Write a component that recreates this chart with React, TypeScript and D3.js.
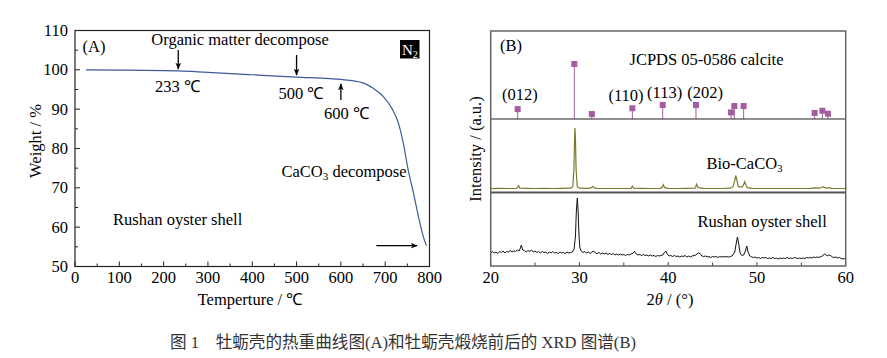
import React from "react";
import * as d3 from "d3";

// ---------- Panel A: TGA data ----------
const tgaTemp = [25, 100, 233, 300, 400, 500, 575, 600, 650, 673, 696, 715, 730, 741, 752, 764, 775, 786, 793];
const tgaWeight = [100, 99.95, 99.75, 99.35, 98.75, 98.15, 97.75, 97.55, 96.7, 95.3, 93.2, 90.2, 86.4, 81.3, 74.5, 68.6, 62.7, 57.6, 55.3];
const xTicksA = [0, 100, 200, 300, 400, 500, 600, 700, 800];
const yTicksA = [50, 60, 70, 80, 90, 100, 110];

// ---------- Panel B: XRD data ----------
const jcpdsAngle = [23.04, 29.42, 31.4, 35.96, 39.38, 43.13, 47.08, 47.45, 48.5, 56.5, 57.37, 58.0];
const jcpdsIntensity = [18, 100, 9, 19.5, 25.5, 25.5, 12, 23.6, 23.6, 11, 15, 9.6];
const hklLabels = ["(012)", "(110)", "(113)", "(202)"];
const hklAngles = [23.3, 35.25, 39.6, 44.15];

const bioCaCO3: [number, number][] = [
  [20, 0], [21, 0.3], [22, 0.2], [22.9, 0.3], [23.05, 1.5], [23.15, 3], [23.3, 0.5], [24, 0.3], [25, 0.2], [26, 0.3],
  [27, 0.2], [28, 0.3], [29, 0.5], [29.25, 2], [29.38, 20], [29.45, 50], [29.5, 60.7], [29.55, 50], [29.62, 20],
  [29.75, 2], [30, 0.5], [31, 0.3], [31.35, 1], [31.5, 2.4], [31.65, 0.8], [32, 0.3], [33, 0.2], [34, 0.2], [35, 0.2],
  [35.8, 0.4], [35.95, 2.5], [36.1, 0.5], [37, 0.3], [38, 0.2], [39, 0.3], [39.3, 1], [39.45, 4], [39.6, 1], [40, 0.3],
  [41, 0.2], [42, 0.3], [43, 0.5], [43.1, 2], [43.2, 4.4], [43.35, 1], [44, 0.3], [45, 0.2], [46, 0.2], [47, 0.5],
  [47.3, 2], [47.5, 8], [47.62, 13], [47.75, 8], [47.9, 2], [48.3, 1.5], [48.5, 4], [48.62, 7], [48.75, 4], [48.9, 1],
  [49.5, 0.3], [50, 0.2], [52, 0.2], [54, 0.2], [56, 0.3], [56.5, 0.8], [57, 0.5], [57.3, 1.2], [57.45, 2], [57.6, 1],
  [58, 0.6], [58.2, 1], [58.4, 0.4], [59, 0.2], [60, 0.2],
];

const rushanShell: [number, number][] = [
  [20.0, 13], [20.2, 14.5], [20.4, 13], [20.6, 14], [20.8, 12.5], [21.0, 14.5], [21.2, 13.5], [21.4, 15], [21.6, 13],
  [21.8, 14.5], [22.0, 14], [22.2, 15.5], [22.4, 14], [22.6, 15], [22.8, 14.5], [23.0, 16], [23.2, 15], [23.35, 18],
  [23.45, 21], [23.6, 16], [23.8, 15.5], [24.0, 14], [24.2, 15.5], [24.4, 14.5], [24.6, 16], [24.8, 14], [25.0, 15],
  [25.2, 13.5], [25.4, 14.5], [25.6, 13], [25.8, 14.5], [26.0, 13.5], [26.2, 14], [26.4, 12.5], [26.6, 14], [26.8, 13],
  [27.0, 14.5], [27.2, 13], [27.4, 13.5], [27.6, 12.5], [27.8, 14], [28.0, 13], [28.2, 13.5], [28.4, 12.5], [28.6, 14],
  [28.8, 13], [29.0, 13.5], [29.2, 14], [29.4, 17], [29.55, 30], [29.65, 55], [29.76, 68], [29.85, 55], [29.95, 30],
  [30.05, 18], [30.2, 15], [30.4, 13.5], [30.6, 14.5], [30.8, 13], [31.0, 14], [31.2, 12.5], [31.4, 14], [31.6, 15],
  [31.8, 13], [32.0, 12.5], [32.2, 13.5], [32.4, 12], [32.6, 13], [32.8, 12], [33.0, 13], [33.2, 11.5], [33.4, 12.5],
  [33.6, 11.5], [33.8, 12.5], [34.0, 11], [34.2, 12], [34.4, 11], [34.6, 12], [34.8, 11], [35.0, 11.5], [35.2, 10.5],
  [35.4, 11.5], [35.6, 11], [35.8, 12], [36.0, 12.5], [36.2, 14.5], [36.4, 12], [36.6, 11], [36.8, 11.5], [37.0, 10.5],
  [37.2, 11.5], [37.4, 10.5], [37.6, 11], [37.8, 10], [38.0, 11], [38.2, 10], [38.4, 10.5], [38.6, 9.5], [38.8, 10.5],
  [39.0, 10], [39.2, 10.5], [39.4, 11], [39.6, 14], [39.75, 15], [39.9, 12], [40.1, 10], [40.3, 10.5], [40.5, 9.5],
  [40.7, 10.5], [40.9, 9.5], [41.1, 10], [41.3, 9], [41.5, 10], [41.7, 9.5], [41.9, 10.5], [42.1, 9], [42.3, 10],
  [42.5, 9], [42.7, 10], [42.9, 10.5], [43.1, 11], [43.4, 13], [43.6, 12.5], [43.8, 10], [44.0, 9.5], [44.2, 10],
  [44.4, 9], [44.6, 9.5], [44.8, 8.5], [45.0, 9.5], [45.2, 9], [45.4, 9.5], [45.6, 8.5], [45.8, 9.5], [46.0, 9],
  [46.2, 9.5], [46.4, 9], [46.6, 9.5], [46.8, 9], [47.0, 9.5], [47.2, 10], [47.5, 14], [47.65, 22], [47.8, 29],
  [47.95, 22], [48.1, 13], [48.3, 10.5], [48.5, 11], [48.7, 15], [48.85, 20], [49.0, 14], [49.2, 10], [49.4, 9],
  [49.6, 8.5], [49.8, 9], [50.0, 8], [50.2, 8.5], [50.4, 7.5], [50.6, 8.5], [50.8, 8], [51.0, 8.5], [51.2, 7.5],
  [51.4, 8], [51.6, 7.5], [51.8, 8.5], [52.0, 7.5], [52.2, 8], [52.4, 7], [52.6, 8], [52.8, 7.5], [53.0, 8], [53.2, 7.5],
  [53.4, 8.5], [53.6, 7.5], [53.8, 8], [54.0, 7.5], [54.2, 8.5], [54.4, 8], [54.6, 7.5], [54.8, 8], [55.0, 7.5],
  [55.2, 8], [55.4, 7.5], [55.6, 8.5], [55.8, 8], [56.0, 8.5], [56.2, 8], [56.4, 9], [56.6, 8.5], [56.8, 9], [57.0, 8.5],
  [57.2, 9.5], [57.4, 10], [57.6, 12], [57.75, 11.5], [57.9, 10], [58.1, 11], [58.3, 10.5], [58.5, 9], [58.7, 8.5],
  [58.9, 9], [59.1, 8], [59.3, 8.5], [59.5, 7.5], [59.7, 7], [59.85, 7.5], [60.0, 6],
];
const xTicksB = [20, 30, 40, 50, 60];
const xMinorB = [25, 35, 45, 55];

const FONT = "'Liberation Serif', 'Times New Roman', serif";
const FS = 16.5;

export default function App() {
  // Panel A scales
  const xA = d3.scaleLinear().domain([0, 800]).range([75, 429.5]);
  const yA = d3.scaleLinear().domain([50, 110]).range([266.5, 30.5]);
  const tgaLine = d3
    .line<number>()
    .x((_, i) => xA(tgaTemp[i]))
    .y((w) => yA(w))
    .curve(d3.curveMonotoneX)(tgaWeight) as string;

  // Panel B scales
  const xB = d3.scaleLinear().domain([20, 60]).range([490.7, 845.7]);
  const yB = d3.scaleLinear().domain([0, 235]).range([266, 31]);
  const yJ = d3.scaleLinear().domain([0, 100]).range([119, 64]);
  const bioOffset = 77.3;
  const lineB = (off: number) =>
    d3
      .line<[number, number]>()
      .x((d) => xB(d[0]))
      .y((d) => yB(d[1] + off));
  const bioPath = lineB(bioOffset)(bioCaCO3) as string;
  const rushanPath = lineB(0)(rushanShell) as string;

  const arrow = (x1: number, y1: number, x2: number, y2: number, key: string) => (
    <line key={key} x1={x1} y1={y1} x2={x2} y2={y2} stroke="#000" strokeWidth={1.3} markerEnd="url(#ah)" />
  );

  const minorA = d3.range(55, 110, 10);
  const minorAx = d3.range(50, 800, 100);

  return (
    <svg
      width={887}
      height={358}
      style={{ position: "absolute", left: 0, top: 0, background: "#fff" }}
      fontFamily={FONT}
      fontSize={FS}
    >
      <defs>
        <marker id="ah" viewBox="0 0 10 10" refX="9" refY="5" markerWidth="7" markerHeight="7" orient="auto" markerUnits="userSpaceOnUse">
          <path d="M0,1 L10,5 L0,9 L2.5,5 Z" fill="#000" />
        </marker>
      </defs>
      <rect x={0} y={0} width={887} height={358} fill="#fff" />

      {/* ---------------- Panel A ---------------- */}
      <g>
        {yTicksA.map((t) => (
          <g key={"ya" + t}>
            <line x1={xA(0)} x2={xA(0) + 5} y1={yA(t)} y2={yA(t)} stroke="#222" />
            <text x={68} y={yA(t) + 5.5} textAnchor="end">{t}</text>
          </g>
        ))}
        {minorA.map((t) => (
          <line key={"yam" + t} x1={xA(0)} x2={xA(0) + 3} y1={yA(t)} y2={yA(t)} stroke="#222" />
        ))}
        {xTicksA.map((t) => (
          <g key={"xa" + t}>
            <line x1={xA(t)} x2={xA(t)} y1={yA(50)} y2={yA(50) - 5} stroke="#222" />
            <text x={xA(t)} y={283} textAnchor="middle">{t}</text>
          </g>
        ))}
        {minorAx.map((t) => (
          <line key={"xam" + t} x1={xA(t)} x2={xA(t)} y1={yA(50)} y2={yA(50) - 3} stroke="#222" />
        ))}
        <rect x={xA(0)} y={yA(110)} width={xA(800) - xA(0)} height={yA(50) - yA(110)} fill="none" stroke="#222" strokeWidth={1.2} />
        <path d={tgaLine} fill="none" stroke="#3d5a9b" strokeWidth={1.2} />

        <text x={82.5} y={51.5}>(A)</text>
        <text x={240} y={45} textAnchor="middle">Organic matter decompose</text>
        {arrow(xA(233), 50, xA(233), 69, "a1")}
        <text x={155} y={92}>233 ℃</text>
        {arrow(xA(500), 55, xA(500), 75, "a2")}
        <text x={278.5} y={99}>500 ℃</text>
        {arrow(xA(600), 100, xA(600), 84, "a3")}
        <text x={324} y={119}>600 ℃</text>
        <rect x={400} y={40} width={19.5} height={18.5} fill="#000" />
        <text x={402} y={55} fill="#fff" fontSize={15}>
          N<tspan fontSize={10} dy={3}>2</tspan>
        </text>
        <text x={281.5} y={176.5}>
          CaCO<tspan fontSize={11} dy={3}>3</tspan>
          <tspan dy={-3}> decompose</tspan>
        </text>
        <text x={113} y={225}>Rushan oyster shell</text>
        {arrow(xA(680), yA(55.3), xA(772), yA(55.3), "a4")}

        <text x={250} y={305} textAnchor="middle">Temperture / ℃</text>
        <text transform={`translate(41,141) rotate(-90)`} textAnchor="middle">Weight / %</text>
      </g>

      {/* ---------------- Panel B ---------------- */}
      <g>
        {xTicksB.map((t) => (
          <g key={"xb" + t}>
            <line x1={xB(t)} x2={xB(t)} y1={266} y2={262} stroke="#444" />
            <text x={xB(t)} y={283} textAnchor="middle">{t}</text>
          </g>
        ))}
        {xMinorB.map((t) => (
          <line key={"xbm" + t} x1={xB(t)} x2={xB(t)} y1={266} y2={262.5} stroke="#444" />
        ))}

        {/* JCPDS sticks */}
        {jcpdsAngle.map((a, i) => (
          <g key={"j" + i}>
            <line x1={xB(a)} x2={xB(a)} y1={yJ(0)} y2={yJ(jcpdsIntensity[i])} stroke="#a45ea0" strokeWidth={1} />
            <rect x={xB(a) - 3} y={yJ(jcpdsIntensity[i]) - 3} width={6} height={6} fill="#a45ea0" />
          </g>
        ))}
        {hklLabels.map((l, i) => (
          <text key={l} x={xB(hklAngles[i])} y={[99.5, 100.5, 97.5, 97.5][i]} textAnchor="middle">{l}</text>
        ))}
        <line x1={xB(20)} x2={xB(60)} y1={yJ(0)} y2={yJ(0)} stroke="#222" strokeWidth={1.2} />
        <line x1={xB(20)} x2={xB(60)} y1={192.5} y2={192.5} stroke="#555" strokeWidth={2} />

        <path d={bioPath} fill="none" stroke="#7b7a2c" strokeWidth={1.2} />
        <path d={rushanPath} fill="none" stroke="#111" strokeWidth={1} />

        <rect x={xB(20)} y={31} width={xB(60) - xB(20)} height={235} fill="none" stroke="#666" strokeWidth={1.5} />

        <text x={500} y={50.5}>(B)</text>
        <text x={706.5} y={65} textAnchor="middle">JCPDS 05-0586 calcite</text>
        <text x={706.5} y={169}>
          Bio-CaCO<tspan fontSize={11} dy={3}>3</tspan>
        </text>
        <text x={697.5} y={226.5}>Rushan oyster shell</text>

        <text x={670} y={305} textAnchor="middle">
          2<tspan fontStyle="italic">θ</tspan> / (°)
        </text>
        <text transform={`translate(481,149) rotate(-90)`} textAnchor="middle">Intensity / (a.u.)</text>
      </g>

      {/* Caption */}
      <text x={170} y={348} fontSize={16.6} fill="#333" fontFamily="'Liberation Serif', 'Noto Sans CJK SC', serif">
        图 1　牡蛎壳的热重曲线图(A)和牡蛎壳煅烧前后的 XRD 图谱(B)
      </text>
    </svg>
  );
}
